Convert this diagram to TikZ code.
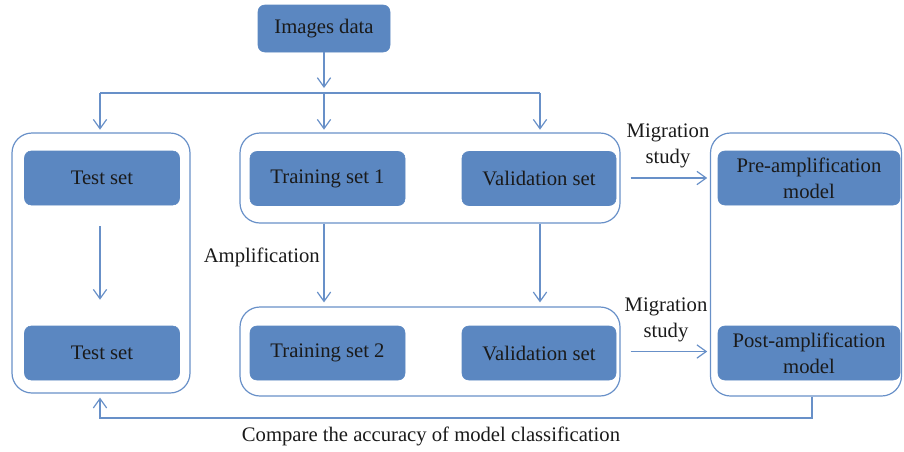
\documentclass[tikz,border=0pt]{standalone}
\usepackage{fontspec}
\setmainfont{Liberation Serif}
\usetikzlibrary{arrows.meta}
\definecolor{boxblue}{HTML}{5B87C1}
\definecolor{lineblue}{HTML}{6890C8}
\definecolor{txt}{HTML}{1A1A1A}
\tikzset{
  blk/.style={fill=boxblue, draw=boxblue, rounded corners=5pt, text=txt, align=center,
    font=\fontsize{15.5}{19.5}\selectfont, inner sep=0pt},
  cont/.style={draw=lineblue, line width=0.9pt, rounded corners=15pt, inner sep=0pt},
  arr/.style={draw=lineblue, line width=0.9pt, -{Straight Barb[length=7pt,width=10pt,line width=0.9pt]}},
  ln/.style={draw=lineblue, line width=0.9pt},
  lbl/.style={text=txt, align=center, font=\fontsize{15.5}{19.5}\selectfont, inner sep=0pt}
}
\begin{document}
\begin{tikzpicture}[x=0.75pt,y=-0.75pt]
\useasboundingbox (0,0) rectangle (904,451);
% containers
\node[cont, minimum width=133.5pt, minimum height=195pt] (left) at (101,263) {};
\node[cont, minimum width=285pt, minimum height=67.5pt] (midtop) at (430,178) {};
\node[cont, minimum width=285pt, minimum height=66.75pt] (midbot) at (430,351.5) {};
\node[cont, minimum width=143.25pt, minimum height=197.25pt] (right) at (806,264.5) {};
% boxes
\node[blk, minimum width=99pt, minimum height=35.25pt] (img) at (324,28.5) {Images data};
\node[blk, minimum width=116.25pt, minimum height=40.5pt] (test1) at (102,178) {Test set};
\node[blk, minimum width=116.25pt, minimum height=40.5pt] (test2) at (102,353) {Test set};
\node[blk, minimum width=116.25pt, minimum height=40.5pt] (train1) at (327.5,178.5) {Training set 1};
\node[blk, minimum width=115.5pt, minimum height=40.5pt] (val1) at (539,178.5) {Validation set};
\node[blk, minimum width=116.25pt, minimum height=40.5pt] (train2) at (327.5,353) {Training set 2};
\node[blk, minimum width=115.5pt, minimum height=40.5pt] (val2) at (539,353) {Validation set};
\node[blk, minimum width=136.5pt, minimum height=40.5pt] (pre) at (809,178) {Pre-amplification\\model};
\node[blk, minimum width=136.5pt, minimum height=40.5pt] (post) at (809,353) {Post-amplification\\model};
% top distribution
\coordinate (t0) at (324,88);
\coordinate (jm) at (324,93);
\coordinate (jl) at (100,93);
\coordinate (jr) at (540,93);
\draw[arr] (img.south) -- (t0);
\draw[ln] (jl) -- (jr);
\draw[arr, shorten >=2pt] (jl) -- (jl |- left.north);
\draw[arr, shorten >=2pt] (jm) -- (jm |- midtop.north);
\draw[arr, shorten >=2pt] (jr) -- (jr |- midtop.north);
% test set arrow
\coordinate (tx) at (100,0);
\draw[arr, shorten <=15.75pt, shorten >=19.5pt] (tx |- test1.south) -- (tx |- test2.north);
% amplification
\draw[arr, shorten >=3pt] (jm |- midtop.south) -- (jm |- midbot.north);
\draw[arr, shorten >=3pt] (jr |- midtop.south) -- (jr |- midbot.north);
\node[lbl, anchor=east] (amp) at (320,257) {Amplification};
% migration
\draw[arr, shorten <=7.5pt, shorten >=2pt] (midtop.east) -- (right.west |- midtop.east);
\draw[arr, shorten <=7.5pt, shorten >=2pt] (midbot.east) -- (right.west |- midbot.east);
\node[lbl] (mig1) at (668,146) {Migration\\study};
\node[lbl] (mig2) at (666,320) {Migration\\study};
% feedback
\coordinate (fb1) at (812,418);
\coordinate (fb2) at (100,418);
\draw[arr, shorten >=3pt] (right.south -| fb1) -- (fb1) -- (fb2) -- (left.south -| fb2);
\node[lbl] (cmp) at (431,436) {Compare the accuracy of model classification};
\end{tikzpicture}
\end{document}
